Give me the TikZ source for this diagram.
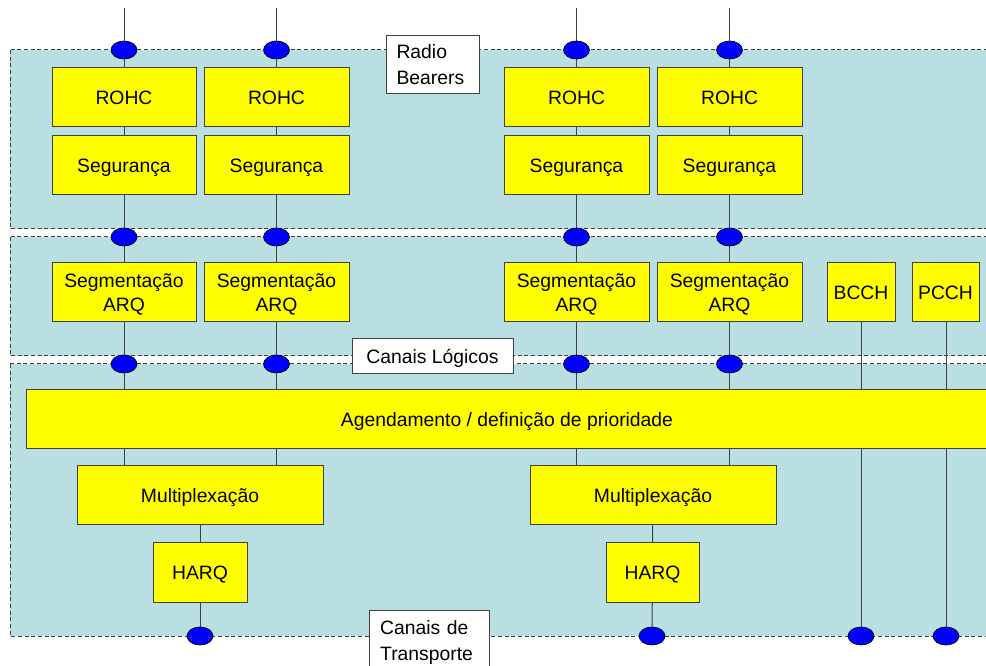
\documentclass[tikz,border=0pt]{standalone}
\usepackage{fontspec}
\setmainfont{Liberation Sans}
\usetikzlibrary{shapes.geometric}
\pgfdeclarelayer{panels}
\pgfdeclarelayer{wires}
\pgfsetlayers{panels,wires,main}
\definecolor{panelfill}{RGB}{185,223,227}
\definecolor{edge}{RGB}{64,64,64}
\definecolor{boxyellow}{RGB}{255,255,0}
\definecolor{portblue}{RGB}{0,0,255}
\tikzset{
  panel/.style={fill=panelfill, draw=edge, line width=0.75pt, dash pattern=on 3pt off 2pt},
  block/.style={draw=edge, fill=boxyellow, line width=0.75pt, inner sep=0pt, align=center,
    font=\fontsize{14.5}{18}\selectfont, text height=10.5pt, text depth=0pt},
  twoline/.style={text height=28.5pt, text depth=0pt},
  port/.style={ellipse, draw=black, fill=portblue, line width=0.5pt, minimum width=19.5pt,
    minimum height=13.5pt, inner sep=0pt},
  tag/.style={draw=edge, fill=white, line width=0.75pt, align=left, inner sep=0pt,
    font=\fontsize{14.5}{19}\selectfont},
  wire/.style={draw=edge, line width=0.75pt}
}
\begin{document}
\begin{tikzpicture}[x=0.75pt,y=-0.75pt]
\useasboundingbox (0,0) rectangle (986,666);
\clip (0,0) rectangle (986,666);

% layer bands
\begin{pgfonlayer}{panels}
  \path[panel] (10,50) rectangle (1000,229);
  \path[panel] (10,237) rectangle (1000,356);
  \path[panel] (10,364) rectangle (1000,636);
\end{pgfonlayer}

% per-bearer chains
\foreach \i/\x/\w in {1/124/144, 2/276.5/145, 3/576.5/145, 4/729.5/145} {
  \coordinate (top\i) at (\x,8);
  \node[block, minimum width=\w*0.75pt, minimum height=44.25pt] (rohc\i) at (\x,97.5) {ROHC};
  \node[block, minimum width=\w*0.75pt, minimum height=44.25pt] (seg\i) at (\x,165.5) {Segurança};
  \node[block, twoline, minimum width=\w*0.75pt, minimum height=44.25pt] (arq\i) at (\x,292.5) {Segmentação\\ARQ};
}
\node[block, minimum width=51pt, minimum height=44.25pt] (bcch) at (861,292.5) {BCCH};
\node[block, minimum width=50.25pt, minimum height=44.25pt] (pcch) at (945.5,292.5) {PCCH};

\node[block, minimum width=721.5pt, minimum height=44.25pt] (sched) at (507,419.5)
  {Agendamento / definição de prioridade};
\node[block, minimum width=184.5pt, minimum height=44.25pt] (mux1) at (200,495.5) {Multiplexação};
\node[block, minimum width=184.5pt, minimum height=44.25pt] (mux2) at (653,495.5) {Multiplexação};
\node[block, minimum width=70.5pt, minimum height=44.25pt] (harq1) at (200,572.5) {HARQ};
\node[block, minimum width=69.75pt, minimum height=44.25pt] (harq2) at (652.5,572.5) {HARQ};

% service access points
\foreach \i in {1,...,4} {
  \node[port] (pa\i) at (top\i |- 0,50) {};
  \node[port] (pb\i) at (top\i |- 0,237) {};
  \node[port] (pc\i) at (top\i |- 0,364) {};
}
\node[port] (tr1) at (200,636) {};
\node[port] (tr2) at (652,636) {};
\node[port] (tr3) at (861,636) {};
\node[port] (tr4) at (946,636) {};

% connectors
\begin{pgfonlayer}{wires}
  \foreach \i in {1,...,4} {
    \draw[wire] (top\i) -- (pc\i.center);
    \draw[wire] (pc\i.center) -- (pc\i |- sched.north);
  }
  \draw[wire] (pc1 |- sched.south) -- (pc1 |- mux1.north);
  \draw[wire] (pc2 |- sched.south) -- (pc2 |- mux1.north);
  \draw[wire] (pc3 |- sched.south) -- (pc3 |- mux2.north);
  \draw[wire] (pc4 |- sched.south) -- (pc4 |- mux2.north);
  \draw[wire] (mux1) -- (harq1) -- (tr1.center);
  \draw[wire] (mux2.south -| harq2) -- (harq2) -- (tr2.center);
  \draw[wire] (bcch) -- (tr3.center);
  \draw[wire] (pcch.south -| tr4) -- (tr4.center);
\end{pgfonlayer}

% band labels
\node[tag, minimum width=69.75pt, minimum height=43.5pt, text width=54pt,
  text height=10.5pt, text depth=19pt] (rb) at (432.5,64.5)
  {Radio\\Bearers};
\node[tag, minimum width=120.75pt, minimum height=26.25pt, align=center,
  text height=10.5pt, text depth=0pt] (cl) at (432.5,356.5)
  {Canais Lógicos};
\node[tag, minimum width=90pt, minimum height=45pt, text width=74pt, anchor=north west] (ct) at (369,610)
  {\rule{0pt}{13.5pt}Canais de\\Transporte};
\end{tikzpicture}
\end{document}
